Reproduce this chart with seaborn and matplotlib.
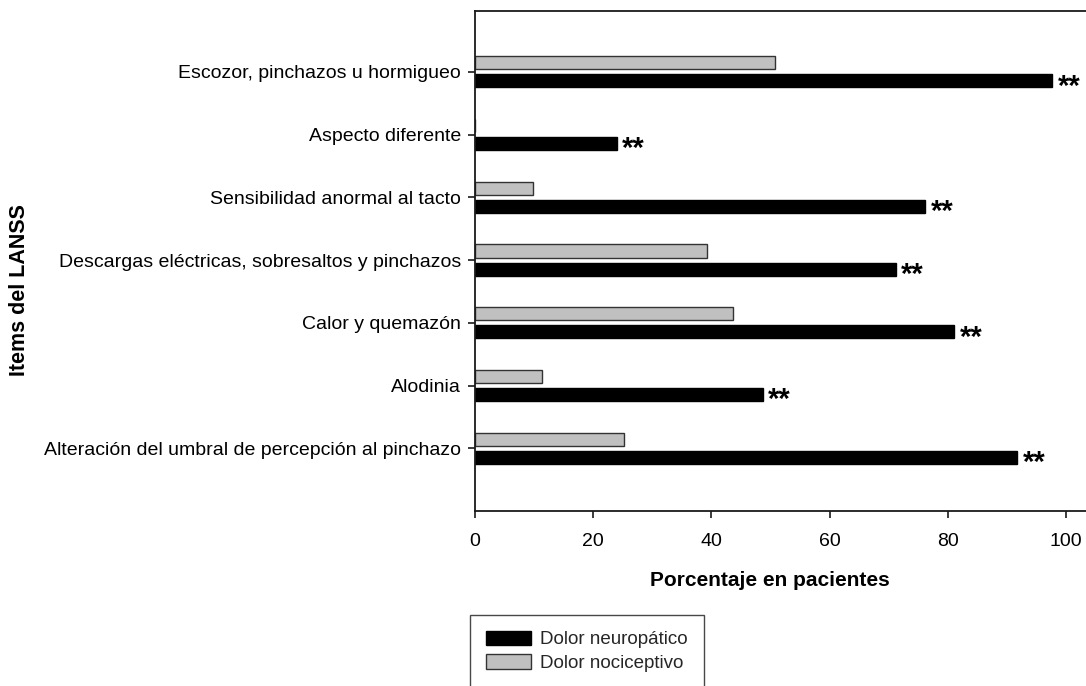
import matplotlib
matplotlib.use("Agg")
import matplotlib.pyplot as plt
import seaborn as sns
import pandas as pd
from matplotlib.patches import Patch

# LANSS items and percentage of patients reporting each one
items = [
    "Escozor, pinchazos u hormigueo",
    "Aspecto diferente",
    "Sensibilidad anormal al tacto",
    "Descargas eléctricas, sobresaltos y pinchazos",
    "Calor y quemazón",
    "Alodinia",
    "Alteración del umbral de percepción al pinchazo",
]
neuropatico = [97.6, 24.0, 76.2, 71.2, 81.1, 48.7, 91.7]
nociceptivo = [50.8, 0.0, 9.9, 39.3, 43.7, 11.3, 25.3]
significance = ["**", "**", "**", "**", "**", "**", "**"]
groups = ["Dolor nociceptivo", "Dolor neuropático"]
x_ticks = [0, 20, 40, 60, 80, 100]

sns.set_theme(style="white")
plt.rcParams["font.family"] = ["Liberation Sans", "DejaVu Sans"]

df = pd.DataFrame({
    "item": items * 2,
    "pct": nociceptivo + neuropatico,
    "grupo": [groups[0]] * len(items) + [groups[1]] * len(items),
})
palette = {"Dolor nociceptivo": "#c0c0c0", "Dolor neuropático": "#000000"}

W, H = 1086, 686
fig = plt.figure(figsize=(W / 100, H / 100), dpi=100)
ax = fig.add_axes([474.7 / W, 175 / H, 620.9 / W, 500 / H])

sns.barplot(
    data=df, y="item", x="pct", hue="grupo", order=items, hue_order=groups,
    palette=palette, orient="h", width=0.58, gap=0.28, dodge=True,
    edgecolor="#333333", linewidth=1.0, legend=False, ax=ax,
)
# black bars get a black outline
for bar in ax.patches:
    if bar.get_facecolor()[0] < 0.1:
        bar.set_edgecolor("black")

# significance markers just past the neuropathic bars
for i, (v, s) in enumerate(zip(neuropatico, significance)):
    ax.annotate(s, xy=(v, i + 0.145), xytext=(4, -4), textcoords="offset points",
                ha="left", va="center", fontsize=21, fontweight="bold", color="black")

ax.set_xlim(0, 105)
ax.set_ylim(7.0, -0.97)
ax.set_xticks(x_ticks)
ax.set_xticklabels([str(t) for t in x_ticks])

for side in ["left", "bottom", "top"]:
    ax.spines[side].set_visible(True)
    ax.spines[side].set_color("#1a1a1a")
    ax.spines[side].set_linewidth(1.3)
ax.spines["right"].set_visible(False)

ax.tick_params(axis="x", which="major", direction="out", length=5, width=1.2,
               color="#1a1a1a", bottom=True, labelsize=14, pad=11)
ax.tick_params(axis="y", which="major", direction="out", length=5, width=1.2,
               color="#1a1a1a", left=True, labelsize=14, pad=5)
for lab in ax.get_xticklabels() + ax.get_yticklabels():
    lab.set_color("black")

ax.set_xlabel("Porcentaje en pacientes", fontsize=15, fontweight="bold", color="black")
ax.xaxis.label.set_va("center")
ax.xaxis.set_label_coords((770 - 474.7) / 620.9, (511 - 581) / 500)
ax.set_ylabel("Items del LANSS", fontsize=15.5, fontweight="bold", color="black")
ax.yaxis.label.set_va("center")
ax.yaxis.set_label_coords((19 - 474.7) / 620.9, (511 - 290) / 500)

handles = [
    Patch(facecolor="#000000", edgecolor="black", label="Dolor neuropático"),
    Patch(facecolor="#c0c0c0", edgecolor="#333333", label="Dolor nociceptivo"),
]
leg = fig.legend(
    handles=handles, loc="upper left", bbox_to_anchor=(470 / W, 1 - 614.7 / H),
    frameon=True, fancybox=False, fontsize=13.5, handlelength=2.4, handleheight=0.78,
    handletextpad=0.5, labelspacing=0.33, borderpad=0.85, borderaxespad=0,
)
leg.get_frame().set_edgecolor("#1a1a1a")
leg.get_frame().set_linewidth(1.0)

fig.savefig("out.png", dpi=100, facecolor="white")
